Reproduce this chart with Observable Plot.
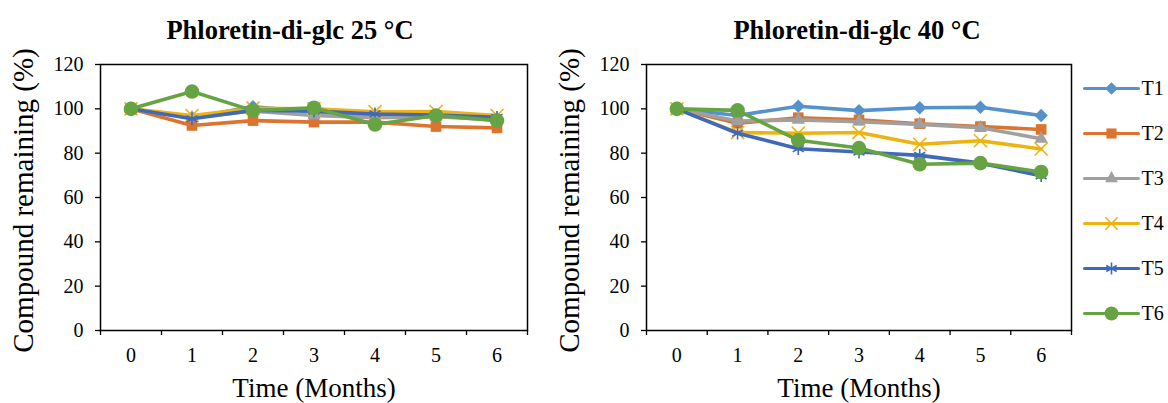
<!DOCTYPE html>
<html>
<head>
<meta charset="utf-8">
<script src="https://cdn.jsdelivr.net/npm/d3@7"></script>
<script src="https://cdn.jsdelivr.net/npm/@observablehq/plot@0.6"></script>
<style>
  html, body { margin: 0; padding: 0; background: white; }
  #wrap { position: relative; width: 1168px; height: 403px; overflow: hidden; background: white; font-family: "Liberation Serif", serif; }
  #wrap > svg { position: absolute; }
  #wrap svg text { font-family: "Liberation Serif", serif; }
</style>
</head>
<body>
<div id="wrap"></div>
<script>
// ---- data ----
const months = [0, 1, 2, 3, 4, 5, 6];
const seriesNames = ["T1", "T2", "T3", "T4", "T5", "T6"];
const seriesColors = ["#5592CC", "#DC7430", "#A0A0A0", "#EDB310", "#4169BA", "#66A342"];
const seriesSymbols = ["diamond2", "square", "triangle", "times", "asterisk", "circle"];
const yTicks = [0, 20, 40, 60, 80, 100, 120];

const title25 = "Phloretin-di-glc 25 °C";
const title40 = "Phloretin-di-glc 40 °C";
const yLabel = "Compound remaining (%)";
const xLabel = "Time (Months)";

// 25 °C
const t25_T1 = [100, 96, 101, 98.5, 97, 97, 95.5];
const t25_T2 = [100, 92.5, 94.7, 94, 94, 92, 91.4];
const t25_T3 = [100, 96, 99, 97, 96, 96.5, 95];
const t25_T4 = [100, 97, 100.3, 100, 98.7, 98.8, 97];
const t25_T5 = [100, 95.5, 99.3, 99, 97.7, 97.2, 96.2];
const t25_T6 = [100, 107.8, 99.2, 100.5, 92.9, 97, 94.7];

// 40 °C
const t40_T1 = [100, 97, 101.2, 99.2, 100.5, 100.7, 97];
const t40_T2 = [100, 93.5, 96, 95, 93.3, 92, 90.7];
const t40_T3 = [100, 94.5, 95, 94.2, 93, 91.5, 86.5];
const t40_T4 = [100, 89.3, 89, 89.3, 84, 85.6, 81.9];
const t40_T5 = [100, 89, 82, 80.5, 79, 75.5, 69.8];
const t40_T6 = [100, 99.3, 85.8, 82.3, 75, 75.5, 71.5];

const data25 = [t25_T1, t25_T2, t25_T3, t25_T4, t25_T5, t25_T6];
const data40 = [t40_T1, t40_T2, t40_T3, t40_T4, t40_T5, t40_T6];

// ---- helpers ----
const FONT = "Liberation Serif";
const strokeSymbols = new Set(["times", "asterisk"]);
const symbolR = {diamond2: 6, square: 6, triangle: 5, times: 6, asterisk: 6, circle: 7.3};

function symbolMark(rows, x, y, sym, color, rScale = 1) {
  if (strokeSymbols.has(sym)) {
    return Plot.dot(rows, {x, y, symbol: () => sym, r: symbolR[sym] * rScale, stroke: color, strokeWidth: 1.6, fill: "none"});
  }
  return Plot.dot(rows, {x, y, symbol: () => sym, r: symbolR[sym] * rScale, fill: color, stroke: "none"});
}

function seriesMarks(arrays) {
  const marks = [];
  arrays.forEach((vals, i) => {
    const rows = months.map((m, j) => ({month: m, value: vals[j]}));
    marks.push(Plot.line(rows, {x: "month", y: "value", stroke: seriesColors[i], strokeWidth: 3.6}));
    marks.push(symbolMark(rows, "month", "value", seriesSymbols[i], seriesColors[i]));
  });
  return marks;
}

function panel(title, titleDx, arrays, width, marginLeft, marginRight) {
  const boundaries = months.map(m => m - 0.5).concat([months[months.length - 1] + 0.5]);
  return Plot.plot({
    width, height: 403,
    marginLeft, marginRight, marginTop: 64, marginBottom: 73,
    x: {type: "linear", domain: [boundaries[0], boundaries[boundaries.length - 1]]},
    y: {domain: [0, 120]},
    style: {fontFamily: FONT, background: "white", color: "black", overflow: "visible"},
    marks: [
      Plot.axisY({ticks: yTicks, tickSize: 5, tickPadding: 12, fontSize: 20, fontFamily: FONT, label: null, strokeWidth: 1.3, tickFormat: d => String(d)}),
      Plot.axisX({ticks: months, tickSize: 0, tickPadding: 17, fontSize: 20, fontFamily: FONT, label: null, tickFormat: d => String(d)}),
      Plot.axisX({ticks: boundaries, tickSize: 5, tickFormat: () => "", label: null, strokeWidth: 1.3}),
      ...seriesMarks(arrays),
      Plot.frame({stroke: "black", strokeWidth: 1.5}),
      Plot.text([title], {text: d => d, frameAnchor: "top", dx: titleDx, dy: -34, fontSize: 26.5, fontWeight: "bold", fontFamily: FONT, lineAnchor: "middle", textAnchor: "middle"}),
      Plot.text([yLabel], {text: d => d, frameAnchor: "left", rotate: -90, dx: -77, dy: 3, fontSize: 29, fontFamily: FONT, lineAnchor: "middle", textAnchor: "middle"}),
      Plot.text([xLabel], {text: d => d, frameAnchor: "bottom", dy: 58, fontSize: 27, fontFamily: FONT, lineAnchor: "middle", textAnchor: "middle"})
    ]
  });
}

function legend() {
  const marks = [];
  seriesNames.forEach((s, i) => {
    const ends = [{s, x: 0}, {s, x: 1}];
    marks.push(Plot.line(ends, {x: "x", y: "s", stroke: seriesColors[i], strokeWidth: 3}));
    marks.push(symbolMark([{s, x: 0.5}], "x", "s", seriesSymbols[i], seriesColors[i], 0.95));
  });
  marks.push(Plot.text(seriesNames, {x: () => 1, y: d => d, text: d => d, textAnchor: "start", dx: 3, fontSize: 20, fontFamily: FONT, lineAnchor: "middle"}));
  return Plot.plot({
    width: 90, height: 290,
    margin: 0,
    x: {type: "linear", domain: [0, 1], range: [6, 60], axis: null},
    y: {type: "point", domain: seriesNames, range: [30, 258], padding: 0, axis: null},
    style: {fontFamily: FONT, background: "transparent", color: "black", overflow: "visible"},
    marks
  });
}

const wrap = document.getElementById("wrap");
const left = panel(title25, -24, data25, 560, 100, 33);
left.style.left = "0px"; left.style.top = "0px";
wrap.appendChild(left);
const right = panel(title40, -2, data40, 608, 86, 97);
right.style.left = "560px"; right.style.top = "0px";
wrap.appendChild(right);
const leg = legend();
leg.style.left = "1078px";
leg.style.top = "56px";
wrap.appendChild(leg);
</script>
</body>
</html>
